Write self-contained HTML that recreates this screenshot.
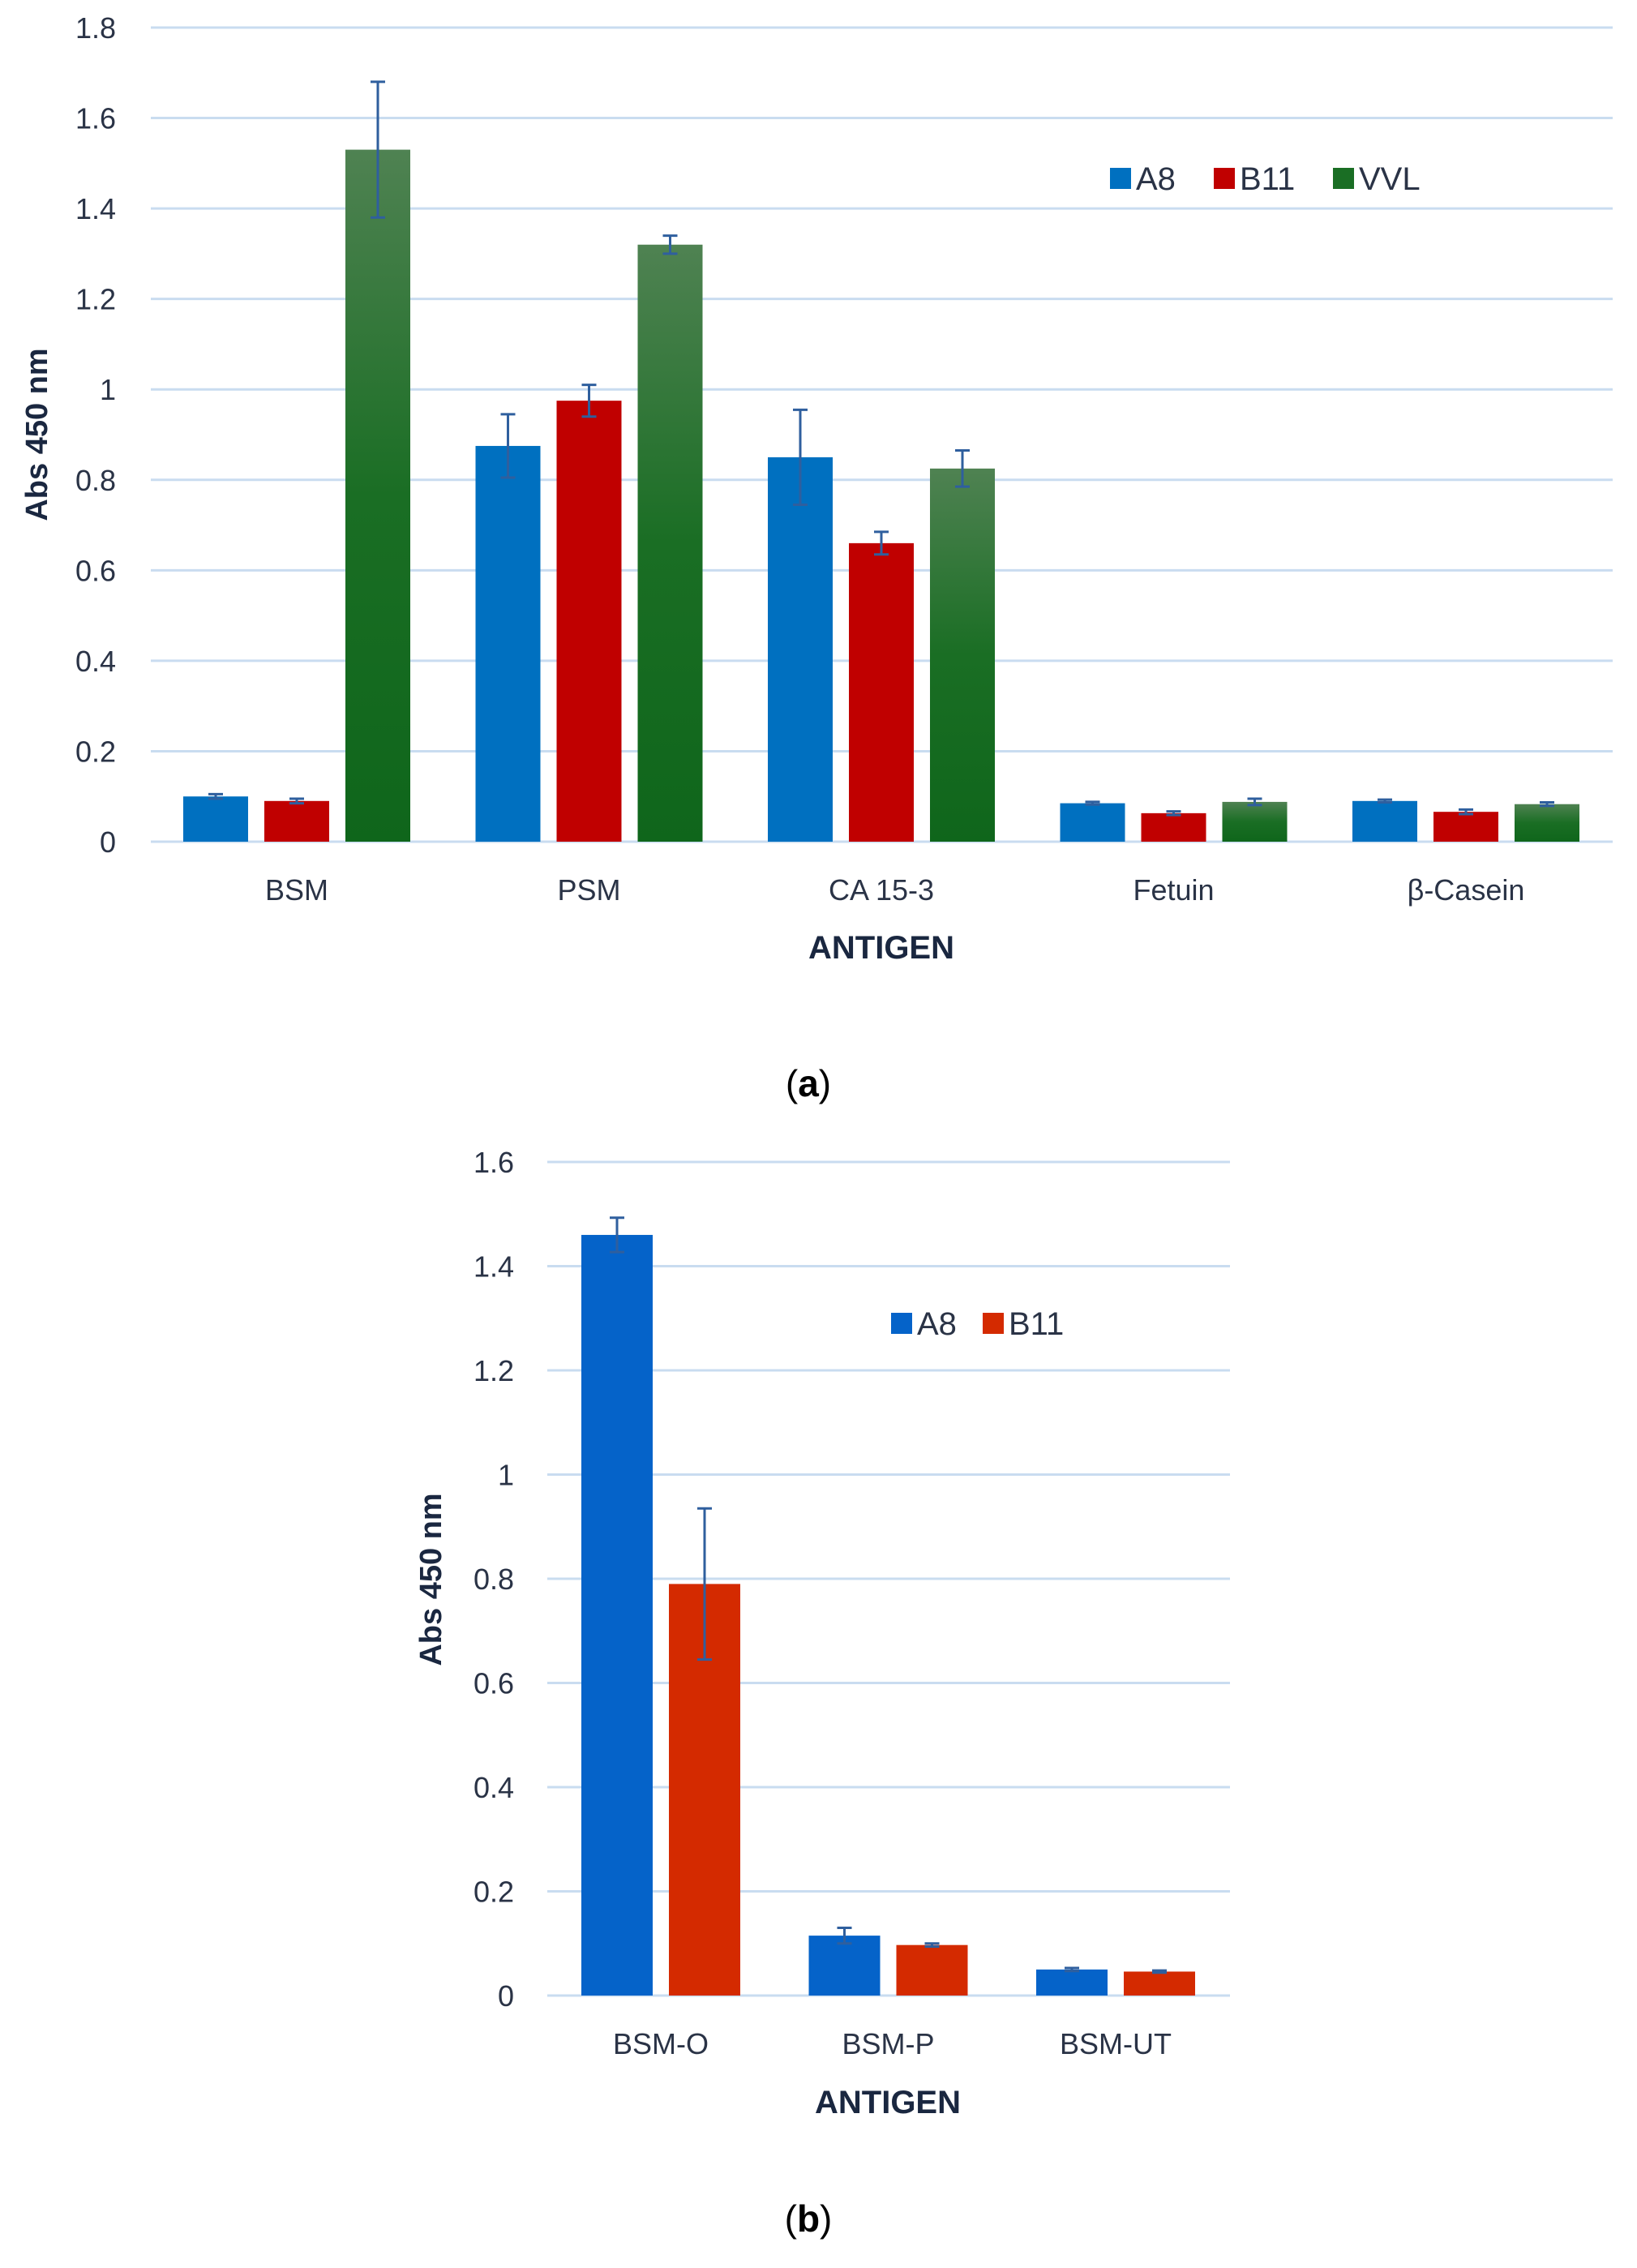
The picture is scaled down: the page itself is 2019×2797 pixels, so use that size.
<!DOCTYPE html>
<html><head><meta charset="utf-8">
<style>
html,body{margin:0;padding:0;background:#fff;}
svg{display:block;}
text{font-family:"Liberation Sans",sans-serif;}
</style></head>
<body>
<svg id="fig" width="2019" height="2797" viewBox="0 0 2019 2797" xmlns="http://www.w3.org/2000/svg">
<defs>
<linearGradient id="gg" x1="0" y1="0" x2="0" y2="1">
<stop offset="0" stop-color="#4f8252"/><stop offset="0.5" stop-color="#1a6e24"/><stop offset="1" stop-color="#0f661b"/>
</linearGradient>
</defs>
<g id="chartA"></g>
<g id="chartB"></g>
<text x="997" y="1352" font-size="46" text-anchor="middle" font-family="Liberation Serif,serif">(<tspan font-weight="bold">a</tspan>)</text>
<text x="997" y="2752" font-size="46" text-anchor="middle" font-family="Liberation Serif,serif">(<tspan font-weight="bold">b</tspan>)</text>
</svg>
<script>
const catsA = ["BSM","PSM","CA 15-3","Fetuin","β-Casein"];
const a8A = [0.10,0.875,0.85,0.085,0.09];
const b11A = [0.09,0.975,0.66,0.063,0.066];
const vvlA = [1.53,1.32,0.825,0.088,0.083];
const a8AErr = [0.005,0.07,0.105,0.003,0.003];
const b11AErr = [0.005,0.035,0.025,0.004,0.005];
const vvlAErr = [0.15,0.02,0.04,0.007,0.004];
const ticksA = [0,0.2,0.4,0.6,0.8,1,1.2,1.4,1.6,1.8];
const tickLabelsA = ["0","0.2","0.4","0.6","0.8","1","1.2","1.4","1.6","1.8"];
const seriesNamesA = ["A8","B11","VVL"];

const catsB = ["BSM-O","BSM-P","BSM-UT"];
const a8B = [1.46,0.115,0.05];
const b11B = [0.79,0.097,0.046];
const a8BErr = [0.033,0.015,0.003];
const b11BErr = [0.145,0.003,0.002];
const ticksB = [0,0.2,0.4,0.6,0.8,1,1.2,1.4,1.6];
const tickLabelsB = ["0","0.2","0.4","0.6","0.8","1","1.2","1.4","1.6"];
const seriesNamesB = ["A8","B11"];

const NS="http://www.w3.org/2000/svg";
function mk(parent,tag,attrs,txt){const e=document.createElementNS(NS,tag);for(const k in attrs)e.setAttribute(k,attrs[k]);if(txt!==undefined)e.textContent=txt;parent.appendChild(e);return e;}

function drawChart(g,cfg){
  const y=v=>cfg.y0-(v-0)/cfg.max*(cfg.y0-cfg.yTop);
  const xc=i=>cfg.firstCat+i*cfg.catStep;
  cfg.ticks.forEach((t,i)=>{
    const l=mk(g,'line',{x1:cfg.left,x2:cfg.right,y1:y(t),y2:y(t),stroke:'#c9dcf0','stroke-width':3});
    
    
    const tx=mk(g,'text',{x:cfg.tickX,y:y(t)+13,'font-size':cfg.fs,'text-anchor':'end',fill:'#2a3346'},cfg.tickLabels[i]);
    
    
  });
  const n=cfg.series.length;
  const groupW=n*cfg.bw+(n-1)*cfg.gap;
  cfg.cats.forEach((c,i)=>{
    cfg.series.forEach((s,j)=>{
      const x=xc(i)-groupW/2+j*(cfg.bw+cfg.gap);
      const v=s[i];
      const r=mk(g,'rect',{x:x,y:y(v),width:cfg.bw,height:y(0)-y(v),fill:cfg.colors[j]});
      
      
      const e=cfg.errs[j][i];
      const cx=x+cfg.bw/2;
      const eg=mk(g,'g',{stroke:'#2f5f9e','stroke-width':3});
      
      
      mk(eg,'line',{x1:cx,x2:cx,y1:y(v+e),y2:y(v-e)});
      mk(eg,'line',{x1:cx-9,x2:cx+9,y1:y(v+e),y2:y(v+e)});
      mk(eg,'line',{x1:cx-9,x2:cx+9,y1:y(v-e),y2:y(v-e)});
    });
    const ct=mk(g,'text',{x:xc(i),y:cfg.catY,'font-size':cfg.fs,'text-anchor':'middle',fill:'#2a3346'},c);
    
    
  });
  const xt=mk(g,'text',{x:cfg.xTitleX,y:cfg.xTitleY,'font-size':cfg.fs+4,'font-weight':'bold','text-anchor':'middle',fill:'#1a2740'},'ANTIGEN');
  
  
  const yt=mk(g,'text',{x:0,y:0,'font-size':cfg.fs+2,'font-weight':'bold','text-anchor':'middle',fill:'#1a2740',transform:`translate(${cfg.yTitleX},${cfg.yTitleY}) rotate(-90)`},'Abs 450 nm');
  
  
  cfg.names.forEach((nm,j)=>{
    const lg=mk(g,'g',{});
    
    
    const lx=cfg.legendX[j];
    mk(lg,'rect',{x:lx,y:cfg.legendY-13,width:26,height:26,fill:cfg.legendColors[j]});
    mk(lg,'text',{x:lx+32,y:cfg.legendY+14,'font-size':cfg.fs+4,fill:'#2a3346'},nm);
  });
}

drawChart(document.getElementById('chartA'),{
  cats:catsA,series:[a8A,b11A,vvlA],errs:[a8AErr,b11AErr,vvlAErr],names:seriesNamesA,
  colors:['#0070c0','#c00000','url(#gg)'],legendColors:['#0070c0','#c00000','#1a6e24'],
  ticks:ticksA,tickLabels:tickLabelsA,max:1.8,y0:1038,yTop:34,left:186,right:1989,tickX:143,
  firstCat:366,catStep:360.5,bw:80,gap:20,fs:36,catY:1110,xTitleX:1087,xTitleY:1182,
  yTitleX:58,yTitleY:536,legendX:[1369,1497,1644],legendY:220
});
drawChart(document.getElementById('chartB'),{
  cats:catsB,series:[a8B,b11B],errs:[a8BErr,b11BErr],names:seriesNamesB,
  colors:['#0563c9','#d42a00'],legendColors:['#0563c9','#d42a00'],
  ticks:ticksB,tickLabels:tickLabelsB,max:1.6,y0:2461,yTop:1433,left:675,right:1517,tickX:634,
  firstCat:815,catStep:280.5,bw:88,gap:20,fs:36,catY:2533,xTitleX:1095,xTitleY:2606,
  yTitleX:544,yTitleY:1948,legendX:[1099,1212],legendY:1632
});
</script>
</body></html>
